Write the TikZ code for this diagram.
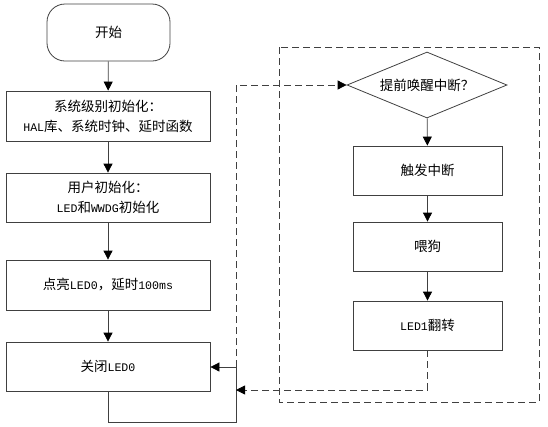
\documentclass[tikz,border=0pt]{standalone}
\usepackage{fontspec}
\setmainfont[Scale=0.86]{Liberation Mono}
\newfontfamily\cjk{Noto Sans CJK SC}
\usetikzlibrary{arrows.meta,shapes.geometric}

\begin{document}
\begin{tikzpicture}[x=1pt,y=-1pt,
    box/.style={rectangle,draw=black!75,line width=0.8pt,minimum width=204pt,minimum height=50pt,
      align=center,font=\fontsize{13.5}{20}\selectfont},
    rbox/.style={box,minimum width=149pt,minimum height=49pt},
    term/.style={box,rounded corners=18pt,minimum width=123pt,minimum height=57pt},
    cond/.style={diamond,draw=black!75,line width=0.8pt,aspect=3,inner sep=0pt,
      minimum width=160pt,minimum height=66pt,font=\fontsize{13.5}{20}\selectfont},
    flow/.style={draw=black!75,line width=0.8pt,-{Triangle[width=9pt,length=9pt,color=black]}},
    dflow/.style={flow,dash pattern=on 7pt off 4pt},
    >=Stealth]
  \useasboundingbox (0,0) rectangle (548,426);
  % main loop
  \node[term] (start) at (108.5,32.5) {\cjk 开始};
  \node[box] (sysinit) at (108,116) {{\cjk 系统级别初始化：}\\HAL{\cjk 库、系统时钟、延时函数}};
  \node[box,minimum height=49pt] (userinit) at (108,197.5) {{\cjk 用户初始化：}\\LED{\cjk 和}WWDG{\cjk 初始化}};
  \node[box] (ledon) at (108,285) {{\cjk 点亮}LED0{\cjk ，延时}100ms};
  \node[box,minimum height=49pt] (ledoff) at (108,366.5) {{\cjk 关闭}LED0};
  % interrupt handler
  \draw[draw=black!75,line width=0.8pt,dash pattern=on 7pt off 4pt] (279,47) rectangle (539,402);
  \node[cond] (wake) at (427,85) {\cjk 提前唤醒中断？};
  \node[rbox] (trig) at (427.5,170.5) {\cjk 触发中断};
  \node[rbox] (feed) at (427.5,246.5) {\cjk 喂狗};
  \node[rbox] (toggle) at (427.5,325.5) {LED1{\cjk 翻转}};
  \coordinate (lb) at (236,422);
  \coordinate (lj) at (236,367);
  \coordinate (lr) at (236,390);
  \draw[flow] (start) -- (sysinit);
  \draw[flow] (sysinit) -- (userinit);
  \draw[flow] (userinit) -- (ledon);
  \draw[flow] (ledon) -- (ledoff);
  \draw[flow] (ledoff.south) |- (lb) -- (lj) -- (ledoff.east |- lj);
  \draw[dflow] (lj) |- (wake.west);
  \draw[flow] (wake) -- (trig);
  \draw[flow] (trig) -- (feed);
  \draw[flow] (feed) -- (toggle);
  \draw[dflow] (toggle.south) |- (lr);
\end{tikzpicture}
\end{document}
